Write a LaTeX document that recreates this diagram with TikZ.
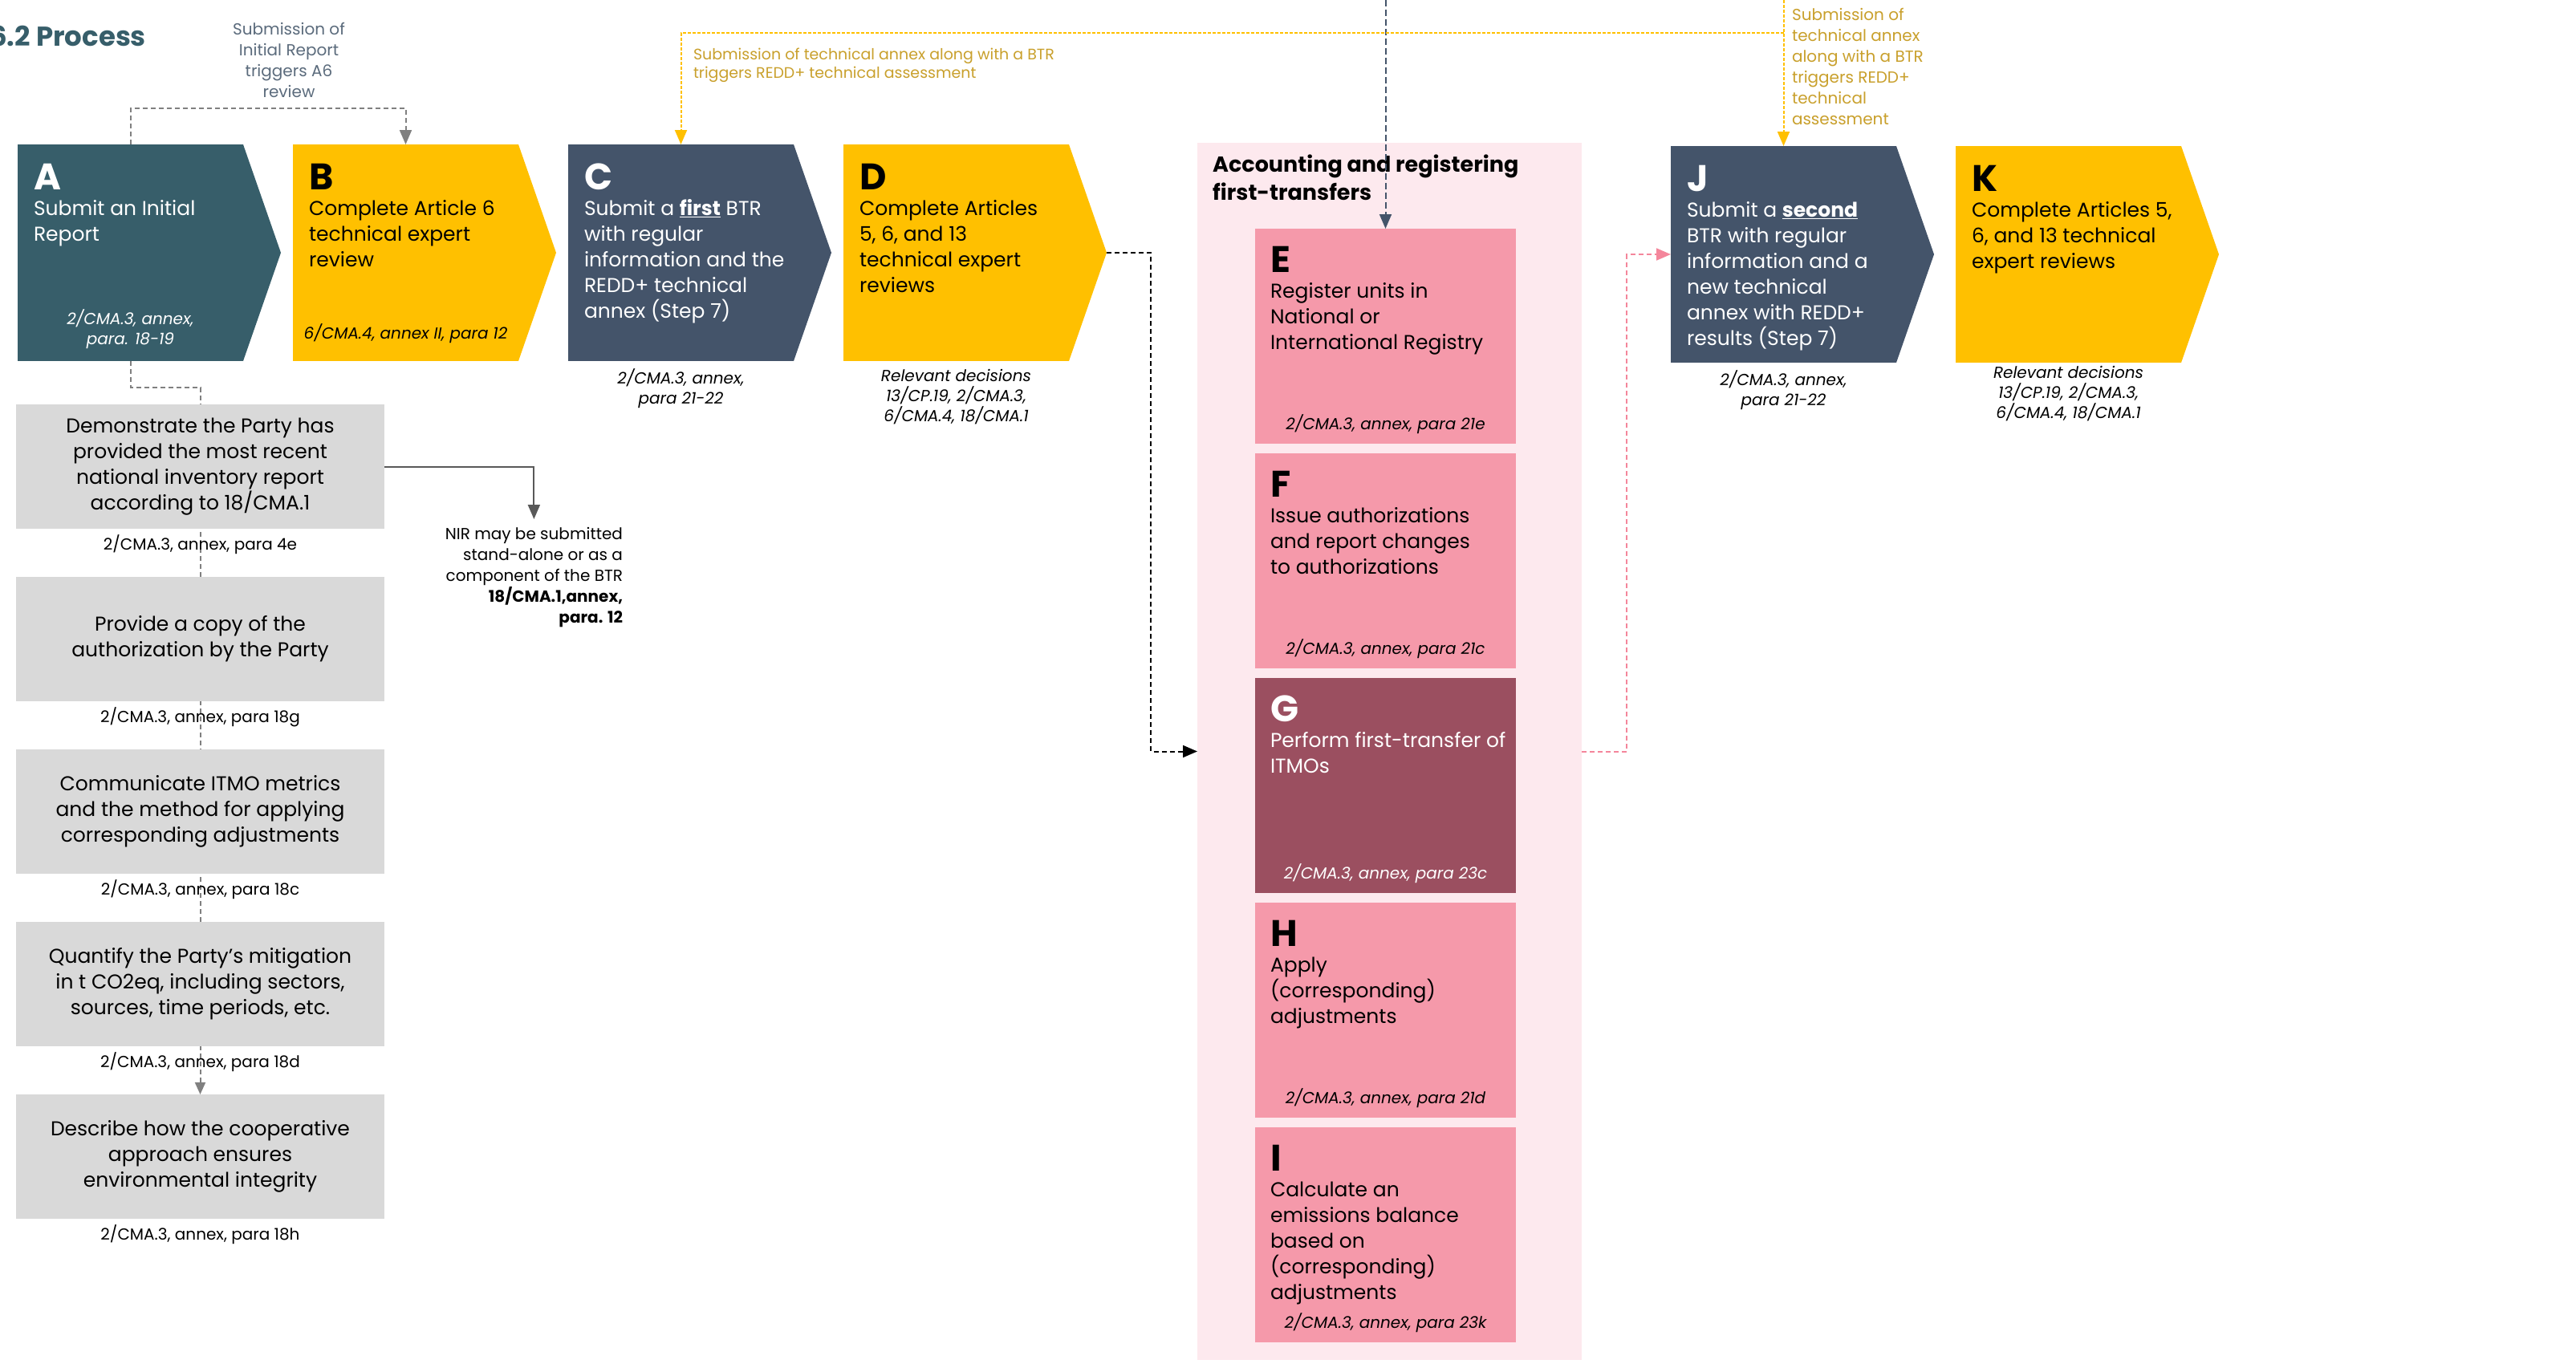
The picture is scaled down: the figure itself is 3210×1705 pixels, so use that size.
\documentclass[tikz,border=0pt]{standalone}
\usepackage{fontspec}
\setmainfont{Poppins}
\usetikzlibrary{arrows.meta,positioning,backgrounds}

\definecolor{stepteal}{HTML}{375E6A}
\definecolor{stepgold}{HTML}{FFC000}
\definecolor{stepslate}{HTML}{44546A}
\definecolor{boxgray}{HTML}{D9D9D9}
\definecolor{grpbg}{HTML}{FDE9EE}
\definecolor{regpink}{HTML}{F599AA}
\definecolor{regwine}{HTML}{9B4F60}
\definecolor{goldtext}{HTML}{C9A02C}
\definecolor{notegray}{HTML}{5B6B7C}
\definecolor{linkgray}{HTML}{808080}
\definecolor{linkpink}{HTML}{F4869B}

\newcommand\stepletter[1]{{\fontsize{46}{46}\selectfont\bfseries #1}}

\begin{document}
\begin{tikzpicture}[x=1pt,y=-1pt,>={Triangle[length=18pt,width=15pt]},
    chevron/.style={rectangle,minimum width=281pt,minimum height=270pt,inner sep=0pt,outer sep=0pt},
    steptext/.style={anchor=north west,inner sep=0pt,outer sep=0pt,align=left,font=\fontsize{25}{32}\selectfont},
    stepref/.style={inner sep=0pt,outer sep=0pt,align=center,font=\fontsize{20}{25}\selectfont\itshape},
    regbox/.style={rectangle,fill=regpink,minimum width=325pt,minimum height=268pt,inner sep=0pt,outer sep=0pt},
    reqbox/.style={rectangle,fill=boxgray,minimum width=459pt,minimum height=155pt,inner sep=0pt,outer sep=0pt,
                   align=center,font=\fontsize{25}{32}\selectfont},
    reqref/.style={inner sep=0pt,outer sep=0pt,font=\fontsize{20}{25}\selectfont},
    note/.style={inner sep=0pt,outer sep=0pt,font=\fontsize{20}{26}\selectfont},
    graylink/.style={draw=linkgray,line width=2pt,dash pattern=on 6pt off 4pt},
    goldlink/.style={draw=stepgold,line width=2pt,dash pattern=on 4pt off 2pt},
    slatelink/.style={draw=stepslate,line width=2pt,dash pattern=on 8pt off 4pt},
    blacklink/.style={draw=black,line width=2pt,dash pattern=on 6pt off 4pt},
    pinklink/.style={draw=linkpink,line width=2pt,dash pattern=on 6pt off 4pt}]

  \useasboundingbox (0,0) rectangle (3210,1705);
  \begin{pgfonlayer}{background}
    \fill[white] (0,0) rectangle (3210,1705);
  \end{pgfonlayer}

  \node[anchor=base west,inner sep=0pt,text=stepteal,font=\fontsize{34}{40}\selectfont\bfseries] (title) at (-13,57) {6.2 Process};

  % steps along the top
  \node[chevron,fill=stepteal,anchor=north west] (A) at (22,180) {};
  \node[chevron,fill=stepgold,right=62pt of A] (B) {};
  \node[chevron,fill=stepslate,right=62pt of B] (C) {};
  \node[chevron,fill=stepgold,right=62pt of C] (D) {};
  \node[chevron,fill=stepslate,anchor=north west] (J) at (2082,182) {};
  \node[chevron,fill=stepgold,right=74pt of J] (K) {};
  \foreach \n/\c in {A/stepteal,B/stepgold,C/stepslate,D/stepgold,J/stepslate,K/stepgold}
    \fill[\c] (\n.north east) -- ([xshift=47pt]\n.east) -- (\n.south east) -- cycle;

  \node[steptext,text=white,below right=24pt and 20pt of A.north west] (At) {\stepletter{A}\\Submit an Initial\\Report};
  \node[steptext,below right=24pt and 20pt of B.north west] (Bt) {\stepletter{B}\\Complete Article 6\\technical expert\\review};
  \node[steptext,text=white,below right=24pt and 20pt of C.north west] (Ct) {\stepletter{C}\\Submit a \textbf{\underline{first}} BTR\\with regular\\information and the\\REDD+ technical\\annex (Step 7)};
  \node[steptext,below right=24pt and 20pt of D.north west] (Dt) {\stepletter{D}\\Complete Articles\\5, 6, and 13\\technical expert\\reviews};
  \node[steptext,text=white,below right=24pt and 20pt of J.north west] (Jt) {\stepletter{J}\\Submit a \textbf{\underline{second}}\\BTR with regular\\information and a\\new technical\\annex with REDD+\\results (Step 7)};
  \node[steptext,below right=24pt and 20pt of K.north west] (Kt) {\stepletter{K}\\Complete Articles 5,\\6, and 13 technical\\expert reviews};

  \node[stepref,text=white,above=15pt of A.south] (Ar) {2/CMA.3, annex,\\para. 18-19};
  \node[stepref,above=22pt of B.south] (Br) {6/CMA.4, annex II, para 12};
  \node[stepref,below=10pt of C.south] (Cr) {2/CMA.3, annex,\\para 21-22};
  \node[stepref,below=10pt of D.south] (Dr) {Relevant decisions\\13/CP.19, 2/CMA.3,\\6/CMA.4, 18/CMA.1};
  \node[stepref,below=10pt of J.south] (Jr) {2/CMA.3, annex,\\para 21-22};
  \node[stepref,below=4pt of K.south] (Kr) {Relevant decisions\\13/CP.19, 2/CMA.3,\\6/CMA.4, 18/CMA.1};

  % accounting and registering group
  \node[fill=grpbg,minimum width=479pt,minimum height=1517pt,inner sep=0pt,outer sep=0pt,anchor=north west] (grp) at (1492,178) {};
  \node[anchor=north west,inner sep=0pt,align=left,font=\fontsize{27}{35}\selectfont\bfseries] (grpt) at (1511,193) {Accounting and registering\\first-transfers};

  \node[regbox,anchor=north west] (E) at (1564,285) {};
  \node[regbox,below=12pt of E] (F) {};
  \node[regbox,fill=regwine,below=12pt of F] (G) {};
  \node[regbox,below=12pt of G] (H) {};
  \node[regbox,below=12pt of H] (I) {};

  \node[steptext,below right=22pt and 19pt of E.north west] (Et) {\stepletter{E}\\Register units in\\National or\\International Registry};
  \node[steptext,below right=22pt and 19pt of F.north west] (Ft) {\stepletter{F}\\Issue authorizations\\and report changes\\to authorizations};
  \node[steptext,text=white,below right=22pt and 19pt of G.north west] (Gt) {\stepletter{G}\\Perform first-transfer of\\ITMOs};
  \node[steptext,below right=22pt and 19pt of H.north west] (Ht) {\stepletter{H}\\Apply\\(corresponding)\\adjustments};
  \node[steptext,below right=22pt and 19pt of I.north west] (It) {\stepletter{I}\\Calculate an\\emissions balance\\based on\\(corresponding)\\adjustments};

  \node[stepref,above=12pt of E.south] (Er) {2/CMA.3, annex, para 21e};
  \node[stepref,above=12pt of F.south] (Fr) {2/CMA.3, annex, para 21c};
  \node[stepref,text=white,above=12pt of G.south] (Gr) {2/CMA.3, annex, para 23c};
  \node[stepref,above=12pt of H.south] (Hr) {2/CMA.3, annex, para 21d};
  \node[stepref,above=12pt of I.south] (Ir) {2/CMA.3, annex, para 23k};

  % requirements of the initial report
  \node[reqbox,anchor=north west] (L1) at (20,504) {Demonstrate the Party has\\provided the most recent\\national inventory report\\according to 18/CMA.1};
  \node[reqref,below=8pt of L1] (L1r) {2/CMA.3, annex, para 4e};
  \node[reqbox,below=60pt of L1] (L2) {Provide a copy of the\\authorization by the Party};
  \node[reqref,below=8pt of L2] (L2r) {2/CMA.3, annex, para 18g};
  \node[reqbox,below=60pt of L2] (L3) {Communicate ITMO metrics\\and the method for applying\\corresponding adjustments};
  \node[reqref,below=8pt of L3] (L3r) {2/CMA.3, annex, para 18c};
  \node[reqbox,below=60pt of L3] (L4) {Quantify the Party’s mitigation\\in t CO2eq, including sectors,\\sources, time periods, etc.};
  \node[reqref,below=8pt of L4] (L4r) {2/CMA.3, annex, para 18d};
  \node[reqbox,below=60pt of L4] (L5) {Describe how the cooperative\\approach ensures\\environmental integrity};
  \node[reqref,below=8pt of L5] (L5r) {2/CMA.3, annex, para 18h};

  \node[note,anchor=north east,align=right] (nir) at (776,657) {NIR may be submitted\\stand-alone or as a\\component of the BTR\\\textbf{18/CMA.1,annex,}\\\textbf{para. 12}};

  % notes on the links
  \node[note,text=notegray,align=center,anchor=north] (a6note) at (360,28) {Submission of\\Initial Report\\triggers A6\\review};
  \node[note,text=goldtext,align=left,anchor=north west,font=\fontsize{19}{23}\selectfont] (btrnote) at (864,60) {Submission of technical annex along with a BTR\\triggers REDD+ technical assessment};
  \node[note,text=goldtext,align=left,anchor=north west] (btrnote2) at (2233,10) {Submission of\\technical annex\\along with a BTR\\triggers REDD+\\technical\\assessment};

  % links
  \coordinate (etop) at (E.north |- 0,0);
  \coordinate (ytop) at (J.north |- 0,0);
  \coordinate (Dtip) at ([xshift=47pt]D.east);
  \draw[slatelink,->] (etop) -- (E.north);
  \draw[goldlink,->] (ytop) -- (J.north);
  \draw[goldlink,->] ([yshift=-41pt]ytop) -| (C.north);
  \draw[graylink,->] (A.north) -- ++(0,-45) -| (B.north);
  \draw[blacklink,->] (Dtip) -- ++(55,0) |- (grp.west);
  \draw[pinklink,->] (grp.east) -- ++(56,0) |- (J.west);
  \draw[draw=black!65,line width=2pt,->,shorten >=10pt] (L1.east) -| (nir.north);
  \begin{pgfonlayer}{background}
    \draw[graylink,->,>={Triangle[length=15pt,width=13pt]}] (A.south) -- ++(0,33) -| (L5.north);
  \end{pgfonlayer}
\end{tikzpicture}
\end{document}
